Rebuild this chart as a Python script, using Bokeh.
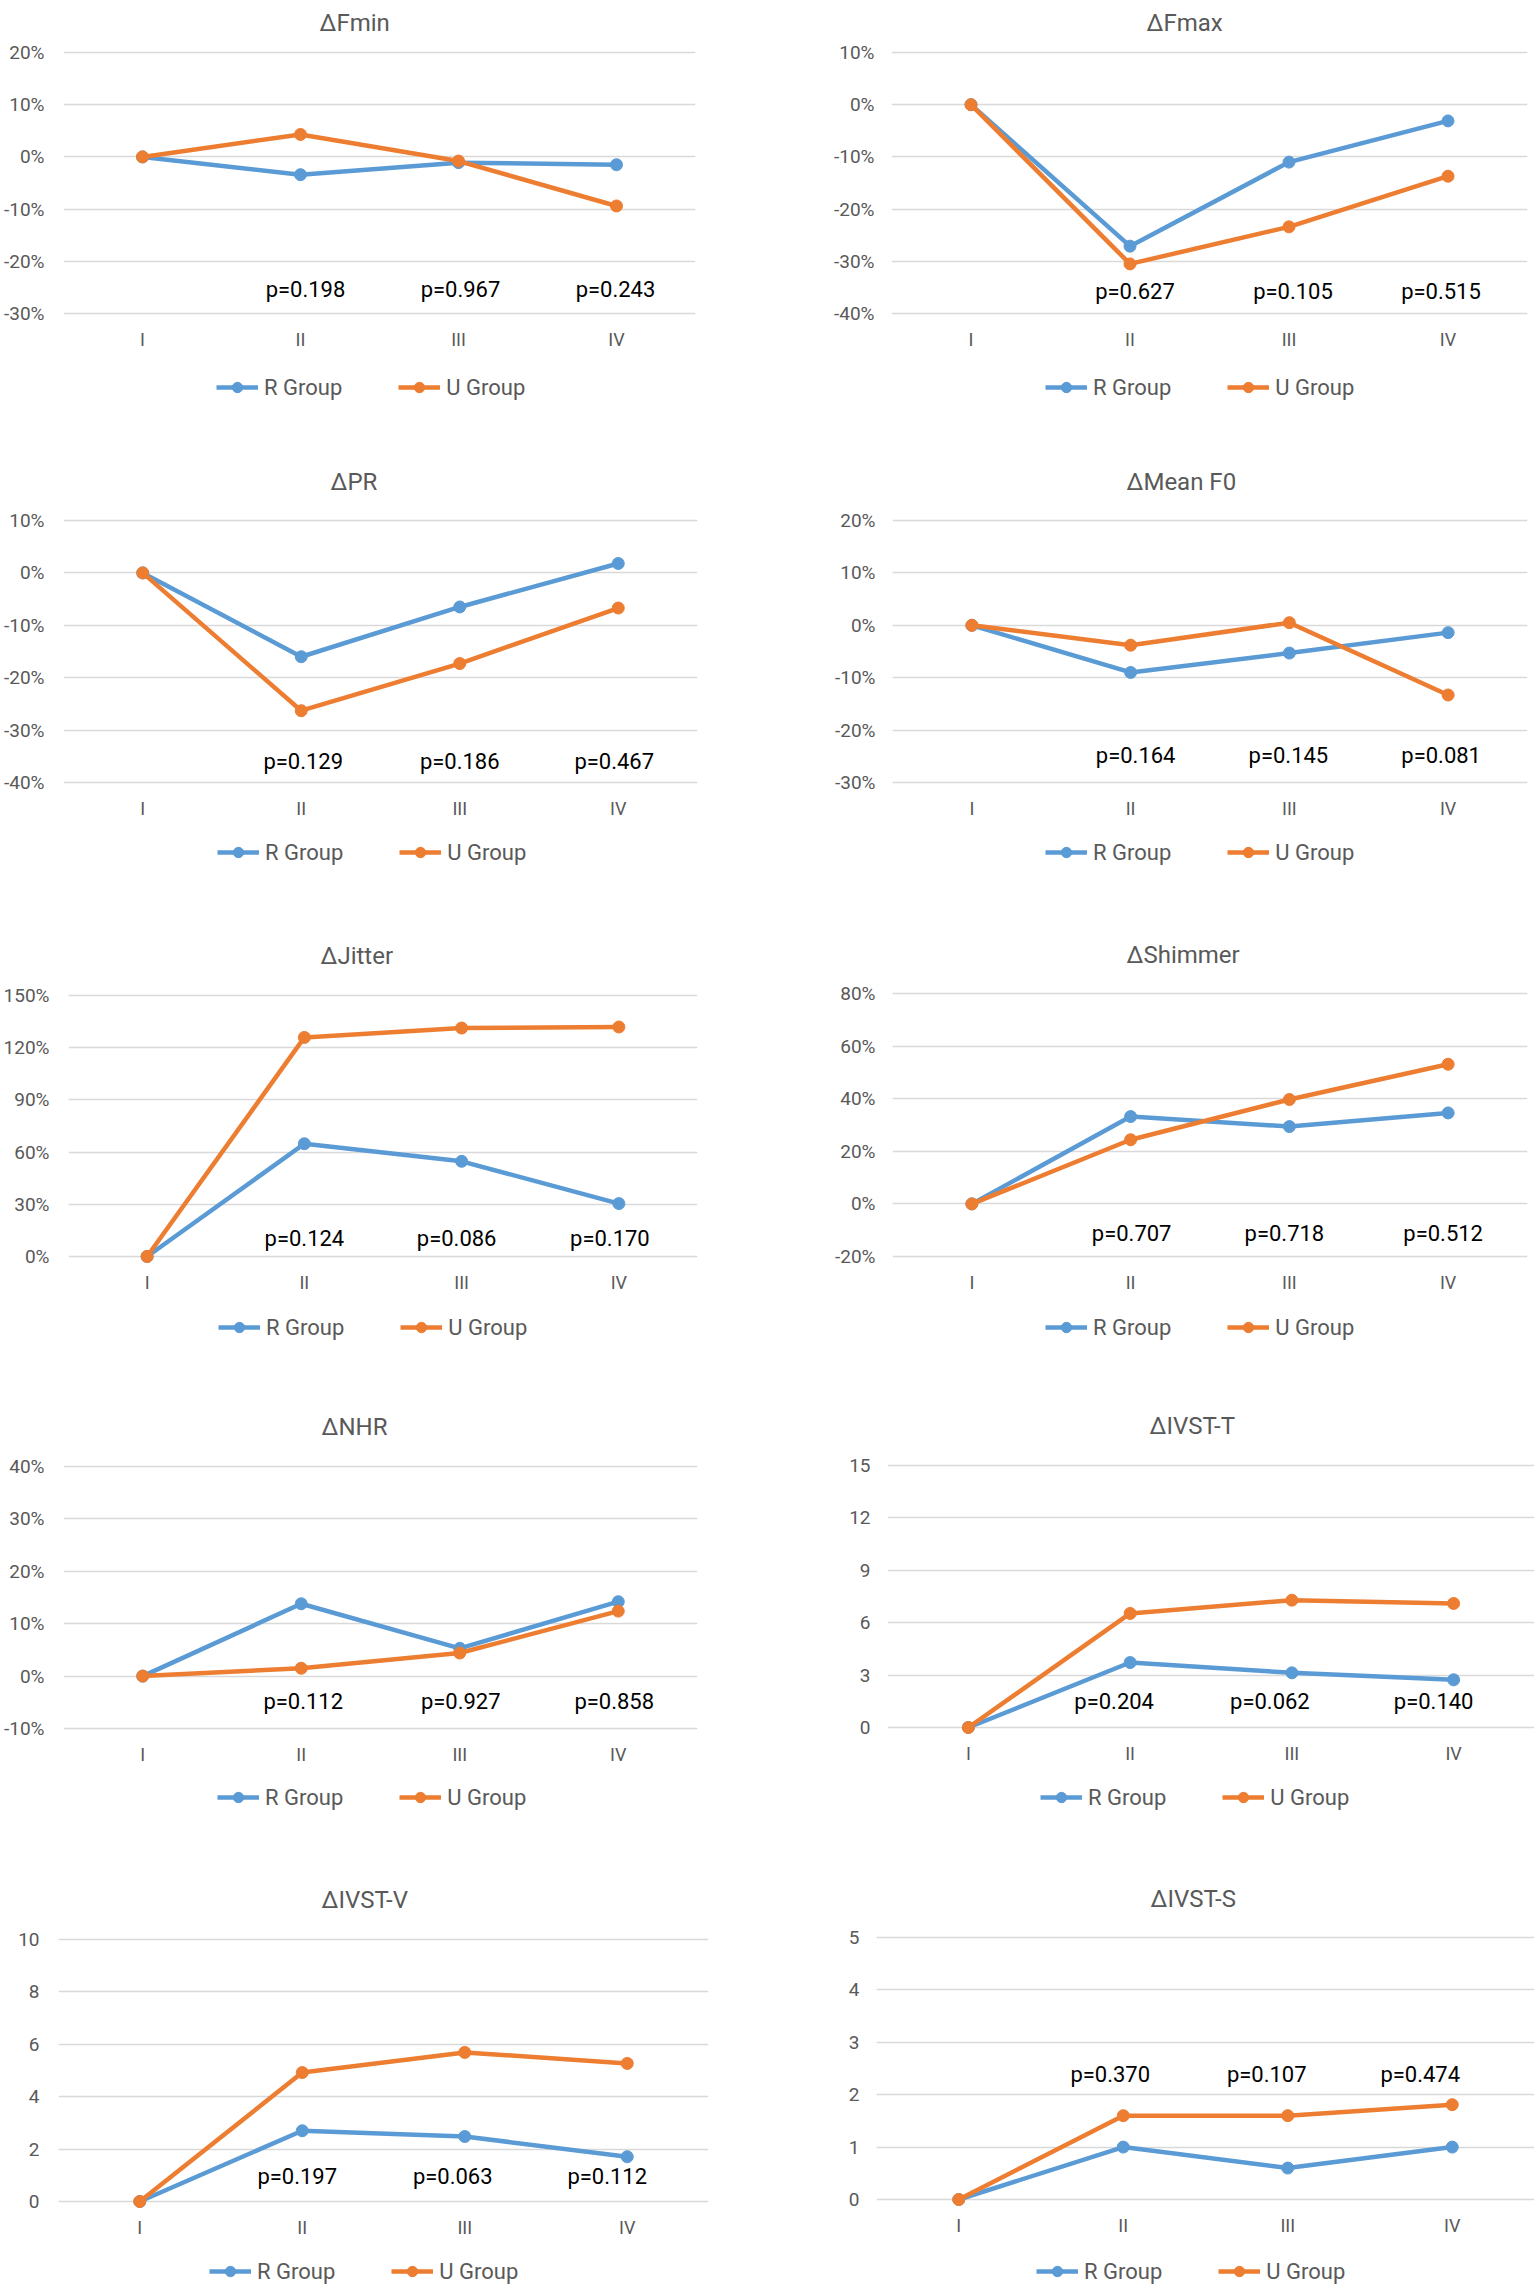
import numpy as np
from bokeh.plotting import figure
from bokeh.models import (FactorRange, Range1d, FixedTicker, Legend, LegendItem,
                          ColumnDataSource)
from bokeh.layouts import column, row
from bokeh.embed import file_html
from bokeh.resources import INLINE
from bokeh.core.properties import value

# ---------------- data ----------------
stages = ["I", "II", "III", "IV"]
group_names = ["R Group", "U Group"]

fmin_r = [0, -3.4, -1.1, -1.5]
fmin_u = [0, 4.3, -0.8, -9.4]
fmin_p = ["p=0.198", "p=0.967", "p=0.243"]
fmin_ticks = [-30, -20, -10, 0, 10, 20]

fmax_r = [0, -27.1, -11.0, -3.1]
fmax_u = [0, -30.5, -23.4, -13.7]
fmax_p = ["p=0.627", "p=0.105", "p=0.515"]
fmax_ticks = [-40, -30, -20, -10, 0, 10]

pr_r = [0, -16.0, -6.5, 1.8]
pr_u = [0, -26.3, -17.3, -6.7]
pr_p = ["p=0.129", "p=0.186", "p=0.467"]
pr_ticks = [-40, -30, -20, -10, 0, 10]

f0_r = [0, -9.0, -5.3, -1.4]
f0_u = [0, -3.8, 0.5, -13.3]
f0_p = ["p=0.164", "p=0.145", "p=0.081"]
f0_ticks = [-30, -20, -10, 0, 10, 20]

jitter_r = [0, 64.8, 54.7, 30.4]
jitter_u = [0, 125.9, 131.3, 131.9]
jitter_p = ["p=0.124", "p=0.086", "p=0.170"]
jitter_ticks = [0, 30, 60, 90, 120, 150]

shimmer_r = [0, 33.2, 29.4, 34.6]
shimmer_u = [0, 24.4, 39.7, 53.1]
shimmer_p = ["p=0.707", "p=0.718", "p=0.512"]
shimmer_ticks = [-20, 0, 20, 40, 60, 80]

nhr_r = [0, 13.8, 5.3, 14.2]
nhr_u = [0, 1.5, 4.4, 12.4]
nhr_p = ["p=0.112", "p=0.927", "p=0.858"]
nhr_ticks = [-10, 0, 10, 20, 30, 40]

ivst_t_r = [0, 3.72, 3.13, 2.73]
ivst_t_u = [0, 6.53, 7.29, 7.10]
ivst_t_p = ["p=0.204", "p=0.062", "p=0.140"]
ivst_t_ticks = [0, 3, 6, 9, 12, 15]

ivst_v_r = [0, 2.70, 2.48, 1.71]
ivst_v_u = [0, 4.92, 5.69, 5.27]
ivst_v_p = ["p=0.197", "p=0.063", "p=0.112"]
ivst_v_ticks = [0, 2, 4, 6, 8, 10]

ivst_s_r = [0, 1.0, 0.6, 1.0]
ivst_s_u = [0, 1.6, 1.6, 1.81]
ivst_s_p = ["p=0.370", "p=0.107", "p=0.474"]
ivst_s_ticks = [0, 1, 2, 3, 4, 5]

panels = [
    ("ΔFmin", fmin_r, fmin_u, fmin_p, fmin_ticks, True),
    ("ΔFmax", fmax_r, fmax_u, fmax_p, fmax_ticks, True),
    ("ΔPR", pr_r, pr_u, pr_p, pr_ticks, True),
    ("ΔMean F0", f0_r, f0_u, f0_p, f0_ticks, True),
    ("ΔJitter", jitter_r, jitter_u, jitter_p, jitter_ticks, True),
    ("ΔShimmer", shimmer_r, shimmer_u, shimmer_p, shimmer_ticks, True),
    ("ΔNHR", nhr_r, nhr_u, nhr_p, nhr_ticks, True),
    ("ΔIVST-T", ivst_t_r, ivst_t_u, ivst_t_p, ivst_t_ticks, False),
    ("ΔIVST-V", ivst_v_r, ivst_v_u, ivst_v_p, ivst_v_ticks, False),
    ("ΔIVST-S", ivst_s_r, ivst_s_u, ivst_s_p, ivst_s_ticks, False),
]

# ---------------- layout / style ----------------
BLUE = "#5B9BD5"
ORANGE = "#ED7D31"
GRID = "#D9D9D9"
TXT = "#595959"
FONT = "Roboto"

COL_LEFT = [0, 767]
COL_W = [767, 767]
ROW_TOP = [0, 446, 919, 1390, 1863]
ROW_H = [446, 473, 471, 473, 422]
PAD = 7
TITLE_H = 29
AXIS_ROOM = 40        # space below the frame kept for the category labels

# frame left, frame right, top gridline, bottom gridline (page px)
FRAMES = [(62, 695, 52, 313), (891, 1527, 52, 313),
          (63, 697, 520, 782), (892, 1527, 520, 782),
          (67, 697, 995, 1256), (892, 1527, 993, 1256),
          (63, 697, 1466, 1728), (887, 1534, 1465, 1727),
          (58, 708, 1939, 2201), (876, 1534, 1937, 2199)]
TITLE_LEFT = [318, 1146, 330, 1126, 319, 1126, 321, 1149, 321, 1150]
P_FRAC = [0.092, 0.086, 0.082, 0.104, 0.069, 0.087, 0.104, 0.10, 0.094, 0.476]
P_DX = [[5, 2, -1], [5, 4, -7], [2, 0, -4], [5, -1, -7], [0, -5, -9],
        [1, -5, -5], [2, 1, -4], [-16, -22, -20], [-5, -12, -20], [-13, -21, -32]]
LEG_LEFT = [215, 1045, 217, 1045, 217, 1045, 217, 1040, 209, 1036]
LEG_CY = [387, 387, 852, 852, 1327, 1327, 1797, 1797, 2271, 2271]
LEG_H = 26


def make_panel(i):
    title, rv, uv, pv, ticks, pct = panels[i]
    r, c = divmod(i, 2)
    col_left, W = COL_LEFT[c], COL_W[c]
    row_top, H = ROW_TOP[r], ROW_H[r]
    L, R, T, B = FRAMES[i]
    ymin, ymax = ticks[0], ticks[-1]
    dpp = (ymax - ymin) / (B - T)
    border_top = T - PAD - row_top
    plot_h = B + PAD + AXIS_ROOM - row_top
    leg_h = H - plot_h

    p = figure(width=W, height=plot_h, x_range=FactorRange(*stages),
               y_range=Range1d(ymin - PAD * dpp, ymax + PAD * dpp),
               output_backend="svg", toolbar_location=None,
               min_border_left=L - col_left, min_border_right=col_left + W - R,
               min_border_top=border_top, min_border_bottom=AXIS_ROOM)
    p.outline_line_color = None
    p.background_fill_color = "white"
    p.border_fill_color = "white"

    p.title.text = title
    p.title.text_font = FONT
    p.title.text_font_size = "24px"
    p.title.text_font_style = "normal"
    p.title.text_color = TXT
    p.title.align = "left"
    p.title.offset = TITLE_LEFT[i] - L
    p.title.standoff = max(border_top - 2 - TITLE_H, 0)
    if r == 0:
        p.title.vertical_align = "top"

    tk = FixedTicker(ticks=ticks)
    ya = p.yaxis[0]
    ya.ticker = tk
    ya.axis_line_color = None
    ya.major_tick_line_color = None
    ya.minor_tick_line_color = None
    ya.major_tick_out = 0
    ya.major_tick_in = 0
    ya.minor_tick_out = 0
    ya.minor_tick_in = 0
    ya.major_label_text_font = FONT
    ya.major_label_text_font_size = "19px"
    ya.major_label_text_color = TXT
    ya.major_label_standoff = 19 if c == 0 else 17
    if pct:
        ya.major_label_overrides = {t: f"{t}%" for t in ticks}

    xa = p.xaxis[0]
    xa.axis_line_color = None
    xa.major_tick_line_color = None
    xa.minor_tick_line_color = None
    xa.major_tick_out = 0
    xa.major_tick_in = 0
    xa.minor_tick_out = 0
    xa.minor_tick_in = 0
    xa.major_label_text_font = FONT
    xa.major_label_text_font_size = "18px"
    xa.major_label_text_color = TXT
    xa.major_label_standoff = 8

    p.xgrid.grid_line_color = None
    p.ygrid.ticker = tk
    p.ygrid.grid_line_color = GRID
    p.ygrid.grid_line_width = 1.5

    src = ColumnDataSource(dict(x=stages, r=rv, u=uv))
    for key, col in (("r", BLUE), ("u", ORANGE)):
        p.line("x", key, source=src, line_color=col, line_width=4.5,
               line_join="round")
        p.scatter("x", key, source=src, size=12, fill_color=col, line_color=col)

    py = ymin + P_FRAC[i] * (ymax - ymin)
    psrc = ColumnDataSource(dict(x=stages[1:], y=[py] * 3, t=pv, dx=P_DX[i]))
    p.text("x", "y", text="t", x_offset="dx", source=psrc, text_align="center",
           text_baseline="middle", text_font=value(FONT), text_font_size="22px",
           text_color="black")

    # legend strip below the chart (key of the two series)
    lg = figure(width=W, height=leg_h, x_range=Range1d(0, 1), y_range=Range1d(0, 1),
                output_backend="svg", toolbar_location=None,
                x_axis_location=None, y_axis_location=None, min_border=0)
    lg.outline_line_color = None
    lg.grid.visible = False
    lg.background_fill_color = "white"
    lg.border_fill_color = "white"
    key_src = ColumnDataSource(dict(x=np.array([0.5]), y=np.array([np.nan])))
    items = []
    for col, name in ((BLUE, group_names[0]), (ORANGE, group_names[1])):
        ln = lg.line("x", "y", source=key_src, line_color=col, line_width=4.5)
        mk = lg.scatter("x", "y", source=key_src, size=12, fill_color=col,
                        line_color=col)
        items.append(LegendItem(label=name, renderers=[ln, mk]))
    row_end = row_top + H
    leg = Legend(items=items, orientation="horizontal",
                 location=(LEG_LEFT[i] - L, row_end - LEG_CY[i] - LEG_H / 2),
                 border_line_color=None, background_fill_alpha=0,
                 padding=0, margin=0, spacing=56, glyph_width=42,
                 glyph_height=LEG_H, label_height=LEG_H, label_standoff=6,
                 label_text_font=FONT, label_text_font_size="22px",
                 label_text_color=TXT)
    lg.add_layout(leg)
    return column(p, lg, spacing=0)


cells = [make_panel(i) for i in range(len(panels))]
layout = column([row(cells[k], cells[k + 1], spacing=0) for k in range(0, 10, 2)],
                spacing=0)

open("out.html", "w").write(file_html(layout, INLINE))
